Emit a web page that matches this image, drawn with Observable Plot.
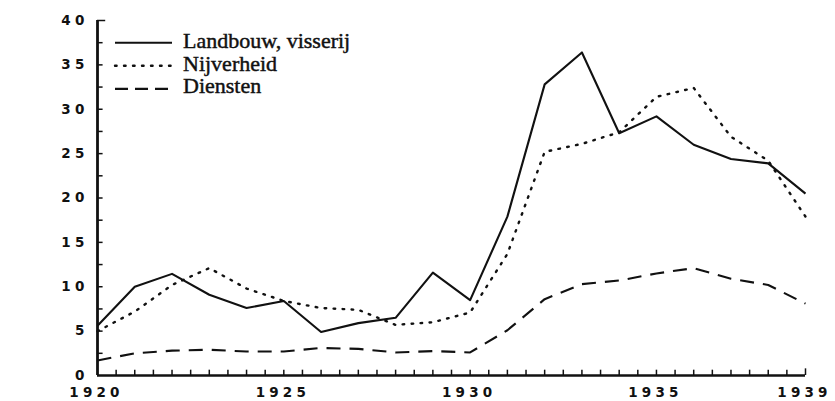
<!DOCTYPE html>
<html><head><meta charset="utf-8">
<script src="https://cdn.jsdelivr.net/npm/d3@7"></script>
<script src="https://cdn.jsdelivr.net/npm/@observablehq/plot@0.6"></script>
<style>
body{margin:0;background:#fff}
#chart{position:relative;width:835px;height:401px}
#chart svg{background:#fff}
g[aria-label="x-axis tick label"] text, g[aria-label="y-axis tick label"] text{letter-spacing:4.2px}
#chart svg g.legend text{font-family:"Liberation Serif","DejaVu Serif",serif !important;font-size:22px}
</style>
</head><body><div id="chart"></div>
<script>
const years = [1920,1921,1922,1923,1924,1925,1926,1927,1928,1929,1930,1931,1932,1933,1934,1935,1936,1937,1938,1939];
const landbouw = [5.6,10.0,11.45,9.1,7.6,8.4,4.9,5.9,6.5,11.6,8.5,17.9,32.8,36.4,27.3,29.2,26.0,24.4,23.9,20.5];
const nijverheid = [5.0,7.2,10.2,12.1,9.8,8.4,7.6,7.4,5.7,6.0,7.1,13.7,25.2,26.1,27.4,31.4,32.4,26.9,24.2,17.9];
const diensten = [1.7,2.5,2.8,2.9,2.7,2.7,3.1,3.0,2.6,2.75,2.6,5.1,8.6,10.3,10.7,11.5,12.1,10.9,10.2,8.1];
const seriesNames = ["Landbouw, visserij","Nijverheid","Diensten"];
const xTickLabels = [1920,1925,1930,1935,1939];
const yTickLabels = [0,5,10,15,20,25,30,35,40];
const xMinorTicks = [1920.5,1921,1921.5,1922,1922.5,1923,1923.5,1924,1924.5,1925,1925.5,1926,1926.5,1927,1927.5,1928,1928.5,1929,1929.5,1930,1930.5,1931,1931.5,1932,1932.5,1933,1933.5,1934,1934.5,1935,1935.5,1936,1936.5,1937,1937.5,1938,1938.5,1939];
const yMinorTicks = [2.5,5,7.5,10,12.5,15,17.5,20,22.5,25,27.5,30,32.5,35,37.5,40];

const dashes = [null, "1.6,7.4", "14,9"];
const seriesValues = [landbouw, nijverheid, diensten];
const rows = [];
seriesValues.forEach((vals, s) => vals.forEach((v, i) => rows.push({year: years[i], value: v, series: seriesNames[s]})));

const font = "'DejaVu Sans', sans-serif";
const marks = [];
seriesNames.forEach((name, s) => {
  marks.push(Plot.line(rows.filter(d => d.series === name), {
    x: "year", y: "value", stroke: "#111", strokeWidth: s === 1 ? 2.4 : 2.1,
    strokeDasharray: dashes[s], strokeLinecap: s === 1 ? "round" : "butt", strokeLinejoin: "round"
  }));
});

const chart = Plot.plot({
  width: 835, height: 401,
  marginLeft: 97, marginRight: 30, marginTop: 20, marginBottom: 26,
  style: {background: "#fff", color: "#111"},
  x: {domain: [1920, 1939]},
  y: {domain: [0, 40]},
  marks: [
    Plot.ruleX(xMinorTicks, {x: d => d, y1: 0, y2: d => d === 1939 ? 0.75 : 0.6, stroke: "#111", strokeWidth: 1.5}),
    Plot.ruleY(yMinorTicks, {y: d => d, x1: 1920, x2: d => d === 40 ? 1920.22 : 1920.15, stroke: "#111", strokeWidth: 1.5}),
    Plot.ruleX([1920], {stroke: "#111", strokeWidth: 2.8}),
    Plot.ruleY([0], {stroke: "#111", strokeWidth: 2.6}),
    Plot.axisX({ticks: xTickLabels, tickFormat: d => String(d), tickSize: 0, tickPadding: 12, dx: -1, fontSize: 13.5, fontWeight: "bold", fontFamily: font, label: null}),
    Plot.axisY({ticks: yTickLabels, tickSize: 0, tickPadding: 9, fontSize: 13.5, fontWeight: "bold", fontFamily: font, label: null}),
    ...marks
  ]
});
document.getElementById("chart").appendChild(chart);

// legend
const svg = d3.select(chart);
const lg = svg.append("g").attr("class", "legend").attr("aria-label", "legend");
seriesNames.forEach((name, s) => {
  const yLine = 42.7 + s * 23.1;
  lg.append("line").attr("x1", 115).attr("x2", 172).attr("y1", yLine).attr("y2", yLine)
    .attr("stroke", "#111").attr("stroke-width", s === 1 ? 2.4 : 2.1)
    .attr("stroke-dasharray", s === 2 ? "13,7" : dashes[s])
    .attr("stroke-linecap", s === 1 ? "round" : "butt");
  lg.append("text").attr("x", 183).attr("y", 48 + s * 22.5)
    .style("text-anchor", "start")
    .style("font-family", "'Liberation Serif', 'DejaVu Serif', serif")
    .style("font-size", "22px")
    .attr("fill", "#111").attr("stroke", "#111").attr("stroke-width", 0.45)
    .text(name);
});
</script>
</body></html>
